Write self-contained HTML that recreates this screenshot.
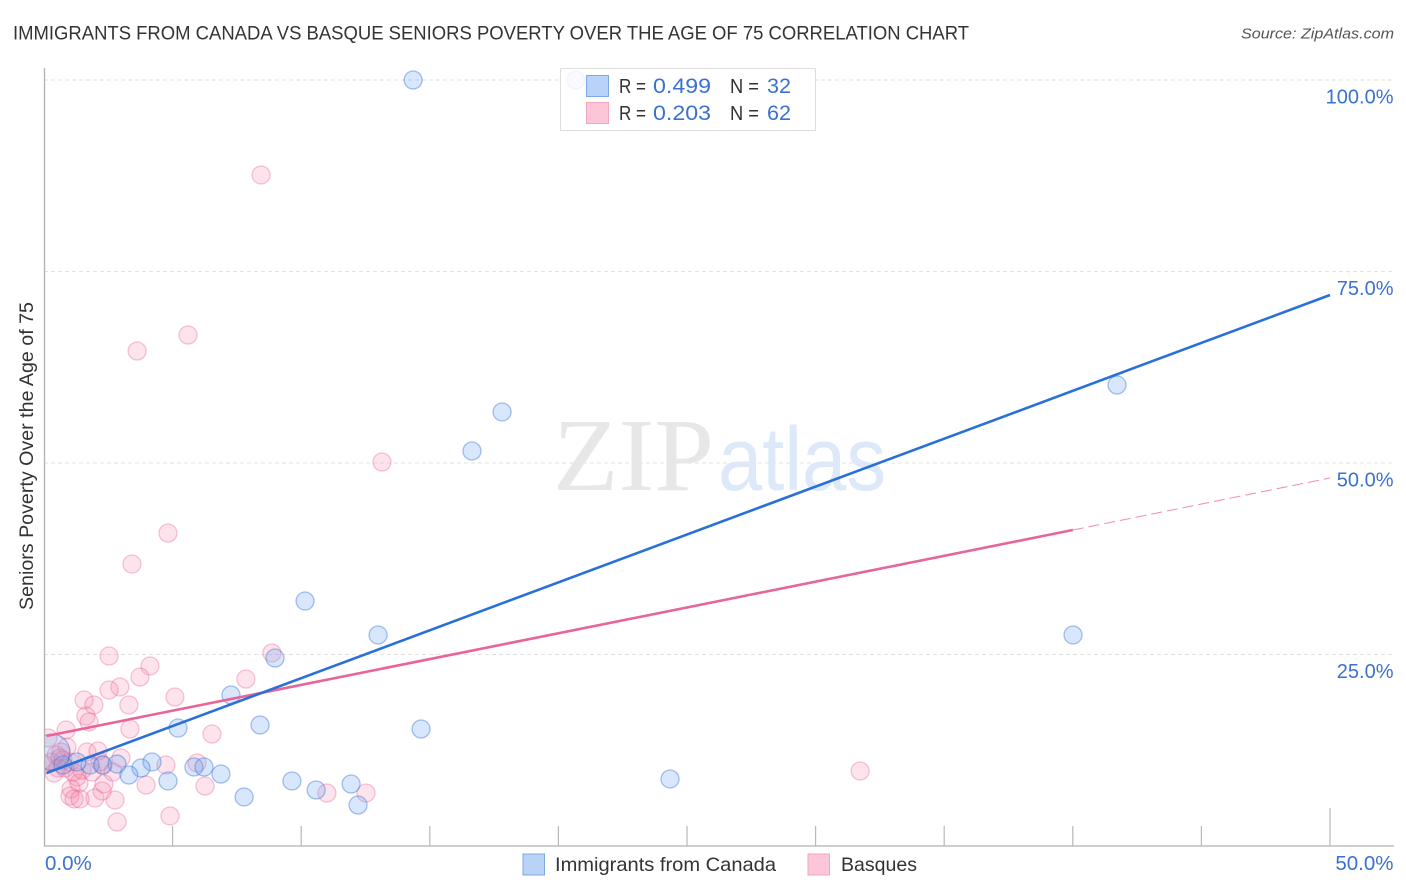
<!DOCTYPE html>
<html lang="en">
<head>
<meta charset="utf-8">
<title>Immigrants from Canada vs Basque Seniors Poverty Over the Age of 75 Correlation Chart</title>
<style>
  html, body { margin: 0; padding: 0; background: #fff; }
  svg { display: block; font-family: "Liberation Sans", sans-serif; }
</style>
</head>
<body>
<svg id="chart" xmlns="http://www.w3.org/2000/svg" width="1406" height="892" viewBox="0 0 1406 892">
  <defs>
    <clipPath id="plot-clip"><rect x="45" y="60" width="1349" height="785"></rect></clipPath>
  </defs>
  <rect width="1406" height="892" fill="#fff"></rect>
  <text x="13" y="39.5" font-size="19.5" fill="#333" textLength="956" lengthAdjust="spacingAndGlyphs">IMMIGRANTS FROM CANADA VS BASQUE SENIORS POVERTY OVER THE AGE OF 75 CORRELATION CHART</text>
  <text x="1394" y="38.5" font-size="15" font-style="italic" fill="#555" text-anchor="end" textLength="153" lengthAdjust="spacingAndGlyphs">Source: ZipAtlas.com</text>
  <g id="grid"></g>
  <g>
    <text x="553" y="490" font-family="'Liberation Serif', serif" font-size="104" fill="#e7e7e7" textLength="161" lengthAdjust="spacingAndGlyphs">ZIP</text>
    <text x="718" y="490" font-size="90" fill="#dde9f8" textLength="168" lengthAdjust="spacingAndGlyphs">atlas</text>
  </g>
  <g id="axes"></g>
  <g id="points" clip-path="url(#plot-clip)"></g>
  <g id="trends"></g>
  <g id="tick-labels"></g>
  <text transform="translate(33,456) rotate(-90)" font-size="19" fill="#333" text-anchor="middle" textLength="308" lengthAdjust="spacingAndGlyphs">Seniors Poverty Over the Age of 75</text>

  <g>
    <rect x="560.5" y="68.5" width="255" height="62" fill="#fff" fill-opacity="0.84" stroke="#dedede"></rect>
    <rect x="586.5" y="75.5" width="22" height="21" fill="#b8d3f7" stroke="#7fa9e2"></rect>
    <rect x="586.5" y="102.5" width="22" height="21" fill="#fdc6d8" stroke="#f4a6bf"></rect>
    <g font-size="20" fill="#333">
      <text x="619" y="93" textLength="27" lengthAdjust="spacingAndGlyphs">R =</text>
      <text x="653" y="93" fill="#3a72d0" font-size="21" textLength="58" lengthAdjust="spacingAndGlyphs">0.499</text>
      <text x="730" y="93" textLength="29" lengthAdjust="spacingAndGlyphs">N =</text>
      <text x="767" y="93" fill="#3a72d0" font-size="21" textLength="24" lengthAdjust="spacingAndGlyphs">32</text>
      <text x="619" y="120" textLength="27" lengthAdjust="spacingAndGlyphs">R =</text>
      <text x="653" y="120" fill="#3a72d0" font-size="21" textLength="58" lengthAdjust="spacingAndGlyphs">0.203</text>
      <text x="730" y="120" textLength="29" lengthAdjust="spacingAndGlyphs">N =</text>
      <text x="767" y="120" fill="#3a72d0" font-size="21" textLength="24" lengthAdjust="spacingAndGlyphs">62</text>
    </g>
  </g>

  <g>
    <rect x="523" y="854" width="21.5" height="21" fill="#b8d3f7" stroke="#7fa9e2"></rect>
    <text x="555" y="871" font-size="19.5" fill="#333" textLength="221" lengthAdjust="spacingAndGlyphs">Immigrants from Canada</text>
    <rect x="808" y="854" width="21.5" height="21" fill="#fdc6d8" stroke="#f4a6bf"></rect>
    <text x="841" y="871" font-size="19.5" fill="#333" textLength="76" lengthAdjust="spacingAndGlyphs">Basques</text>
  </g>
</svg>
<script>
var canadaX = [14.35,20.68,17.81,16.64,41.72,40.01,10.15,12.99,8.98,7.27,8.40,5.21,14.66,4.20,3.77,3.30,2.84,1.79,1.28,0.74,5.83,6.22,6.88,4.82,7.78,9.64,10.58,11.94,12.21,24.34,2.29,0.31];
var canadaY = [100,100,56.66,51.57,60.18,27.55,31.98,27.55,24.54,19.71,15.80,15.40,15.27,10.97,10.18,9.27,10.70,10.57,10.97,10.57,10.31,10.31,9.40,8.49,6.40,8.49,7.31,8.09,5.35,8.75,10.57,12.27];
var canadaWeight = [1,1,1,1,1,1,1,1,1,1,1,1,1,1,1,1,1,1,1,1,1,1,1,1,1,1,1,1,1,1,1,2];

var basquesX = [8.44,5.60,3.62,13.14,4.82,3.42,8.86,2.53,4.12,3.73,7.85,2.95,2.53,5.09,1.56,3.30,1.94,1.63,1.75,6.53,3.34,0.86,0.89,31.73,12.52,11.00,6.26,3.97,4.90,2.84,2.76,1.98,2.26,2.33,1.36,1.05,1.01,1.17,1.40,2.99,1.67,2.10,4.74,5.95,2.26,2.68,0.39,1.28,0.16,0.47,0.62,0.74,0.27,0.54,0.82,0.04,1.01,2.18,1.48,1.13,1.87,0.66];
var basquesY = [87.6,66.71,64.62,50.13,40.86,36.81,25.20,24.80,23.50,22.06,21.80,20.76,20.37,19.45,19.06,18.41,18.41,16.97,16.19,14.62,15.27,15.14,12.92,9.79,6.92,6.92,7.83,7.96,3.92,3.13,6.01,6.27,7.18,8.09,8.22,7.44,6.53,6.14,6.14,11.49,12.27,12.40,10.57,10.84,10.57,9.66,9.53,9.01,14.10,11.88,11.49,11.23,10.97,10.18,10.18,10.57,10.97,10.97,9.92,9.66,9.66,12.27];

var canadaTrendX = [0.1, 50];
var canadaTrendY = [9.53, 71.93];
var basquesTrendX = [0.1, 40];
var basquesTrendY = [14.36, 41.25];
var basquesDashX = [40, 50];
var basquesDashY = [41.25, 48.04];

var xTicks = [5,10,15,20,25,30,35,40,45,50];
var yTicks = [100,75,50,25];
var yTickLabels = ["100.0%","75.0%","50.0%","25.0%"];
var xEdgeLabels = ["0.0%","50.0%"];

var NS = "http://www.w3.org/2000/svg";
function xAxis(v) { return 44 + v * 25.72; }
function yAxis(v) { return 846 - v * 7.66; }
function make(tag, attrs, parent) {
  var el = document.createElementNS(NS, tag);
  for (var k in attrs) { el.setAttribute(k, attrs[k]); }
  parent.appendChild(el);
  return el;
}

var grid = document.getElementById("grid");
yTicks.forEach(function (t) {
  var line = make("line", { x1: 44, x2: 1394, y1: yAxis(t), y2: yAxis(t), stroke: "#e2e2e2", "stroke-width": 1, "stroke-dasharray": "4 3" }, grid);
  
  
});

var axes = document.getElementById("axes");
var yLine = make("line", { x1: 44.5, x2: 44.5, y1: 68, y2: 846, stroke: "#b0b0b0", "stroke-width": 1.3 }, axes);


var xLine = make("line", { x1: 44, x2: 1394, y1: 846, y2: 846, stroke: "#b0b0b0", "stroke-width": 1.3 }, axes);


xTicks.forEach(function (t, i) {
  var top = i === xTicks.length - 1 ? 808 : 826;
  var tick = make("line", { x1: xAxis(t), x2: xAxis(t), y1: top, y2: 846, stroke: "#b8b8b8", "stroke-width": 1.2 }, axes);
  
  
});

var pointsGroup = document.getElementById("points");
function drawSeries(xs, ys, weights, fill, stroke, name) {
  xs.forEach(function (x, i) {
    var w = weights ? weights[i] : 1;
    var c = make("circle", { cx: xAxis(x), cy: yAxis(ys[i]), r: 9 * w, fill: fill, stroke: stroke, "stroke-width": 1.3 }, pointsGroup);
    
    
  });
}
drawSeries(basquesX, basquesY, null, "rgba(246,130,170,0.22)", "rgba(232,95,145,0.36)", "basques-point");
drawSeries(canadaX, canadaY, canadaWeight, "rgba(110,165,240,0.27)", "rgba(50,110,215,0.42)", "canada-point");

var trends = document.getElementById("trends");
var t1 = make("line", { x1: xAxis(basquesTrendX[0]), y1: yAxis(basquesTrendY[0]), x2: xAxis(basquesTrendX[1]), y2: yAxis(basquesTrendY[1]), stroke: "#e8659a", "stroke-width": 2.6 }, trends);


var t2 = make("line", { x1: xAxis(basquesDashX[0]), y1: yAxis(basquesDashY[0]), x2: xAxis(basquesDashX[1]), y2: yAxis(basquesDashY[1]), stroke: "#e8659a", "stroke-width": 1, "stroke-opacity": 0.75, "stroke-dasharray": "11 5" }, trends);


var t3 = make("line", { x1: xAxis(canadaTrendX[0]), y1: yAxis(canadaTrendY[0]), x2: xAxis(canadaTrendX[1]), y2: yAxis(canadaTrendY[1]), stroke: "#2a70d8", "stroke-width": 2.6 }, trends);



var labels = document.getElementById("tick-labels");
yTicks.forEach(function (t, i) {
  var lab = make("text", { x: 1393.5, y: yAxis(t) + 23.5, "font-size": 20, fill: "#3a72d0", "text-anchor": "end" }, labels);
  lab.textContent = yTickLabels[i];
  
  
});
var lab0 = make("text", { x: 45, y: 870, "font-size": 20.5, fill: "#3a72d0" }, labels);
lab0.textContent = xEdgeLabels[0];


var lab1 = make("text", { x: 1393.5, y: 870, "font-size": 20.5, fill: "#3a72d0", "text-anchor": "end" }, labels);
lab1.textContent = xEdgeLabels[1];


</script>
</body>
</html>
